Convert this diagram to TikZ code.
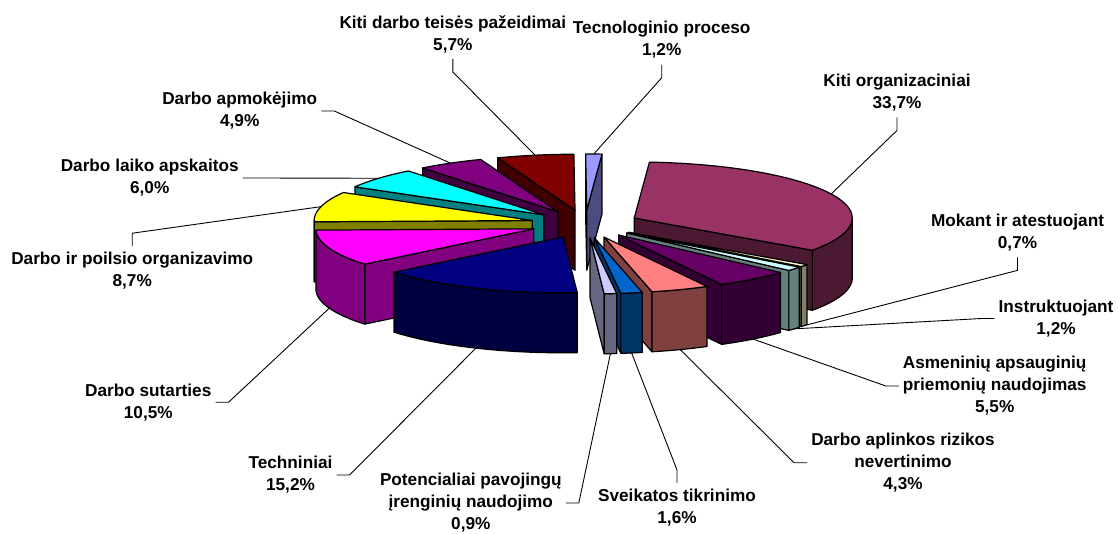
\documentclass[tikz,border=0pt]{standalone}
\usepackage{fontspec}
\setmainfont{Liberation Sans}
\usepackage{tikz}

\definecolor{corg}{HTML}{993366}
\definecolor{cmok}{HTML}{FFFFCC}
\definecolor{cinst}{HTML}{CCFFFF}
\definecolor{casm}{HTML}{660066}
\definecolor{criz}{HTML}{FF8080}
\definecolor{csveik}{HTML}{0066CC}
\definecolor{cpot}{HTML}{CCCCFF}
\definecolor{ctech}{HTML}{000080}
\definecolor{csut}{HTML}{FF00FF}
\definecolor{cpoil}{HTML}{FFFF00}
\definecolor{claik}{HTML}{00FFFF}
\definecolor{capm}{HTML}{800080}
\definecolor{cteis}{HTML}{800000}
\definecolor{ctecno}{HTML}{9999FF}

% pie geometry (pixels)
\newcommand\pcx{585}
\newcommand\pcy{224}
\newcommand\pra{218}
\newcommand\prb{56}
\newcommand\pdep{60}
\newcommand\pexp{0.25}

% start angle, end angle, colour, name
\newcommand\drawslice[4]{%
  \pgfmathsetmacro\slmid{(#1+#2)/2}
  \pgfmathsetmacro\slox{\pcx+\pexp*\pra*sin(\slmid)}
  \pgfmathsetmacro\sloy{\pcy-\pexp*\prb*cos(\slmid)}
  \coordinate (#4) at (\slox,\sloy);
  \coordinate (#4top) at ({\slox+\pra*sin(\slmid)},{\sloy-\prb*cos(\slmid)});
  \coordinate (#4bot) at ({\slox+\pra*sin(\slmid)},{\sloy-\prb*cos(\slmid)+\pdep});
  \pgfmathtruncatemacro\slvs{sin(#1)<0}
  \pgfmathtruncatemacro\slve{sin(#2)>0}
  \pgfmathsetmacro\sllo{max(#1,90)}
  \pgfmathsetmacro\slhi{min(#2,270)}
  \pgfmathtruncatemacro\slcs{\slhi>\sllo}
  \ifnum\slvs=1
    \filldraw [slice, fill=#3!50!black] (#4) -- ({\slox+\pra*sin(#1)},{\sloy-\prb*cos(#1)})
      -- ++(0,\pdep) -- (\slox,{\sloy+\pdep}) -- cycle;
  \fi
  \ifnum\slve=1
    \filldraw [slice, fill=#3!50!black] (#4) -- ({\slox+\pra*sin(#2)},{\sloy-\prb*cos(#2)})
      -- ++(0,\pdep) -- (\slox,{\sloy+\pdep}) -- cycle;
  \fi
  \ifnum\slcs=1
    \filldraw [slice, fill=#3!50!black]
      plot [domain=\sllo:\slhi, samples=40] ({\slox+\pra*sin(\x)},{\sloy-\prb*cos(\x)})
      -- plot [domain=\slhi:\sllo, samples=40] ({\slox+\pra*sin(\x)},{\sloy-\prb*cos(\x)+\pdep})
      -- cycle;
  \fi
  \filldraw [slice, fill=#3] (#4)
    -- plot [domain=#1:#2, samples=60] ({\slox+\pra*sin(\x)},{\sloy-\prb*cos(\x)}) -- cycle;
}

\begin{document}
\begin{tikzpicture}
[ x=1pt, y=-1pt
, slice/.style={draw=black, line width=1.2pt, line join=round}
, lbl/.style={font=\fontsize{17.2}{22}\selectfont\bfseries, align=center, inner xsep=4pt, inner ysep=6pt}
, leader/.style={draw=black, line width=0.9pt}
]
\useasboundingbox (0,0) rectangle (1118,534);
% Slices, back to front:
\drawslice{359.7}{364}{ctecno}{tecno}
\drawslice{339.2}{359.7}{cteis}{teis}
\drawslice{321.6}{339.2}{capm}{apm}
\drawslice{300}{321.6}{claik}{laik}
\drawslice{4}{125.2}{corg}{org}
\drawslice{268.7}{300}{cpoil}{poil}
\drawslice{230.9}{268.7}{csut}{sut}
\drawslice{125.2}{127.7}{cmok}{mok}
\drawslice{127.7}{132}{cinst}{inst}
\drawslice{132}{151.8}{casm}{asm}
\drawslice{176.3}{230.9}{ctech}{tech}
\drawslice{151.8}{167.3}{criz}{riz}
\drawslice{167.3}{173}{csveik}{sveik}
\drawslice{173}{176.3}{cpot}{pot}
% Labels:
\node (orgtxt) [lbl] at (897,92.7) {Kiti organizaciniai\\33,7\%};
\node (moktxt) [lbl] at (1017.5,232.6) {Mokant ir atestuojant\\0,7\%};
\node (insttxt) [lbl] at (1056,318.5) {Instruktuojant\\1,2\%};
\node (asmtxt) [lbl] at (994.7,386) {Asmeninių apsauginių\\priemonių naudojimas\\5,5\%};
\node (riztxt) [lbl] at (903,462.7) {Darbo aplinkos rizikos\\nevertinimo\\4,3\%};
\node (sveiktxt) [lbl] at (677,507.7) {Sveikatos tikrinimo\\1,6\%};
\node (pottxt) [lbl] at (470.8,503) {Potencialiai pavojingų\\įrenginių naudojimo\\0,9\%};
\node (techtxt) [lbl] at (290.5,475) {Techniniai\\15,2\%};
\node (suttxt) [lbl] at (148.3,402.2) {Darbo sutarties\\10,5\%};
\node (poiltxt) [lbl] at (132.2,271) {Darbo ir poilsio organizavimo\\8,7\%};
\node (laiktxt) [lbl] at (149.7,178) {Darbo laiko apskaitos\\6,0\%};
\node (apmtxt) [lbl] at (239.7,111) {Darbo apmokėjimo\\4,9\%};
\node (teistxt) [lbl] at (452.8,34) {Kiti darbo teisės pažeidimai\\5,7\%};
\node (tecnotxt) [lbl] at (661.7,40) {Tecnologinio proceso\\1,2\%};
% Leader lines:
\draw [leader] (orgtxt.south) -- ++(0,13) -- (orgtop);
\draw [leader] (moktxt.south) -- ++(0,13) -- (mokbot);
\draw [leader] (insttxt.west) -- ++(-13,0) -- (instbot);
\draw [leader] (asmtxt.west) -- ++(-13,0) -- (asmbot);
\draw [leader] (riztxt.west) -- ++(-13,0) -- (rizbot);
\draw [leader] (sveiktxt.north) -- ++(0,-13) -- (sveikbot);
\draw [leader] (pottxt.east) -- ++(13,0) -- (potbot);
\draw [leader] (techtxt.east) -- ++(13,0) -- (techbot);
\draw [leader] (suttxt.east) -- ++(13,0) -- (sutbot);
\draw [leader] (poiltxt.north) -- ++(0,-13) -- (poiltop);
\draw [leader] (laiktxt.east) -- ++(13,0) -- (laiktop);
\draw [leader] (apmtxt.east) -- ++(13,0) -- (apmtop);
\draw [leader] (teistxt.south) -- ++(0,13) -- (teistop);
\draw [leader] (tecnotxt.south) -- ++(0,13) -- (tecnotop);
\end{tikzpicture}
\end{document}
